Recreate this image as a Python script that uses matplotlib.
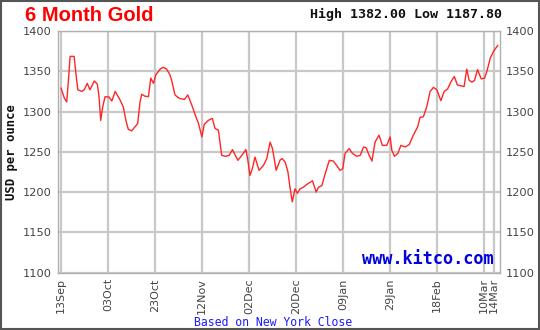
import matplotlib
matplotlib.use("Agg")
import matplotlib.pyplot as plt
from matplotlib.patches import Rectangle

# trading-day index (0 = 13Sep) and close price
days = [0.1, 1.1, 1.8, 2.3, 2.8, 4.0, 4.5, 5.1, 6.3, 7.0, 7.9, 8.7, 10.0, 10.9,
        11.4, 11.9, 12.5, 13.2, 14.4, 15.2, 16.2, 17.4, 18.6, 19.4, 20.1, 21.1,
        22.1, 22.9, 23.6, 24.1, 25.1, 26.1, 26.8, 27.6, 28.3, 29.6, 30.5, 31.5,
        32.5, 33.0, 34.0, 35.2, 36.8, 37.8, 39.0, 40.0, 41.0, 42.0, 42.7, 43.9,
        45.1, 45.9, 46.9, 47.9, 49.1, 50.1, 51.1, 52.7, 53.9, 55.1, 55.7, 56.3,
        57.0, 57.8, 59.0, 60.3, 61.3, 62.3, 63.0, 64.1, 65.3, 65.9, 66.8, 67.6,
        68.2, 68.9, 69.7, 70.4, 71.2, 72.2, 73.2, 74.9, 76.0, 76.7, 77.7, 78.7,
        79.9, 81.1, 82.1, 83.1, 83.9, 84.6, 85.8, 86.8, 88.1, 89.1, 90.1, 90.9,
        91.5, 92.6, 93.5, 94.7, 95.7, 97.0, 98.0, 98.5, 99.3, 100.3, 101.2, 102.5,
        103.7, 104.9, 106.2, 106.9, 107.9, 108.9, 109.9, 110.9, 111.9, 113.1,
        114.1, 115.1, 116.1, 117.1, 118.0, 119.0, 120.0, 120.8, 121.5, 122.3,
        123.1, 124.0, 125.1, 126.1, 126.8, 127.8, 128.8, 130.0]
price = [1329, 1316.5, 1312, 1339, 1368.5, 1368.5, 1348, 1327, 1325, 1327, 1335,
         1327, 1338, 1334, 1318.5, 1289, 1306, 1318.5, 1318, 1313, 1325, 1316.5,
         1306, 1289, 1278, 1276, 1281, 1285, 1312, 1321.5, 1319, 1318.5, 1341.5,
         1335, 1345.6, 1352.7, 1355, 1352.7, 1345.6, 1339, 1320.6, 1316.5, 1315,
         1320.6, 1308, 1296, 1285, 1268.5, 1284, 1289, 1291.5, 1279, 1277, 1245.6,
         1244.4, 1245.6, 1252.7, 1239.4, 1245.6, 1252.7, 1239, 1220.6, 1229,
         1243.5, 1227, 1233, 1241.5, 1262, 1254, 1227, 1240, 1241.5, 1237, 1225,
         1206, 1187.8, 1204, 1198.5, 1204, 1206, 1209.4, 1214, 1200, 1206, 1208,
         1223, 1239.4, 1238.5, 1233, 1227, 1229, 1248, 1254, 1248, 1244.4, 1245.6,
         1256, 1255, 1248, 1238.5, 1262, 1270.6, 1258, 1258, 1268.5, 1252, 1244.4,
         1248, 1258, 1256, 1259, 1270.6, 1281, 1292.7, 1293.5, 1306, 1325, 1330,
         1327, 1313.5, 1325, 1328, 1337, 1343.5, 1333, 1332, 1331, 1352.7, 1339,
         1336.5, 1338.5, 1352, 1340.6, 1341.5, 1350, 1366.5, 1375, 1382]

tick_days = [0, 14, 28, 42, 56, 70, 84, 98, 112, 126, 128.8]
tick_labels = ['13Sep', '03Oct', '23Oct', '12Nov', '02Dec', '20Dec', '09Jan',
               '29Jan', '18Feb', '10Mar', '14Mar']
y_ticks = [1100, 1150, 1200, 1250, 1300, 1350, 1400]

fig = plt.figure(figsize=(5.4, 3.3), dpi=100)
ax = fig.add_axes([0.1065, 0.174, 0.8195, 0.732])

ax.plot(days, price, color='#ff2626', lw=1.0, zorder=3)

ax.set_xlim(-0.95, 130.7)
ax.set_ylim(1100, 1400)
ax.set_xticks(tick_days)
ax.set_xticklabels(tick_labels, rotation=90, fontsize=8, color='#444444')
ax.set_yticks(y_ticks)
ax.set_yticklabels([str(v) for v in y_ticks], fontsize=8.2, color='#444444')
ax.tick_params(axis='y', which='both', length=0, pad=4, labelright=True)
ax.tick_params(axis='x', length=0, pad=4)
ax.grid(True, color='#c8c8c8', lw=1.6)
ax.set_axisbelow(True)
for s in ax.spines.values():
    s.set_color('#b0b0b0')
    s.set_linewidth(1.0)

# texts
fig.text(0.046, 0.952, '6 Month Gold', color='#ff0000', fontsize=14.5,
         fontweight='bold', family='Liberation Sans', va='center')
fig.text(0.93, 0.955, 'High 1382.00 Low 1187.80', color='#111111', fontsize=9.6,
         fontweight='bold', family='DejaVu Sans Mono', va='center', ha='right')
fig.text(0.022, 0.54, 'USD per ounce', rotation=90, fontsize=8.8, fontweight='bold',
         family='DejaVu Sans Mono', va='center', ha='center', color='#111111')
ax.text(0.985, 0.018, 'www.kitco.com', transform=ax.transAxes, color='#0000e0',
        fontsize=12.2, fontweight='bold', family='DejaVu Sans Mono',
        ha='right', va='bottom', zorder=4)
fig.text(0.505, 0.022, 'Based on New York Close', color='#1a1aff', fontsize=8.3,
         family='DejaVu Sans Mono', ha='center', va='center')

# outer border
fig.patches.append(Rectangle((0.002, 0.003), 0.996, 0.994, transform=fig.transFigure,
                             fill=False, edgecolor='#555555', lw=1.5))

fig.savefig('out.png', dpi=100)
